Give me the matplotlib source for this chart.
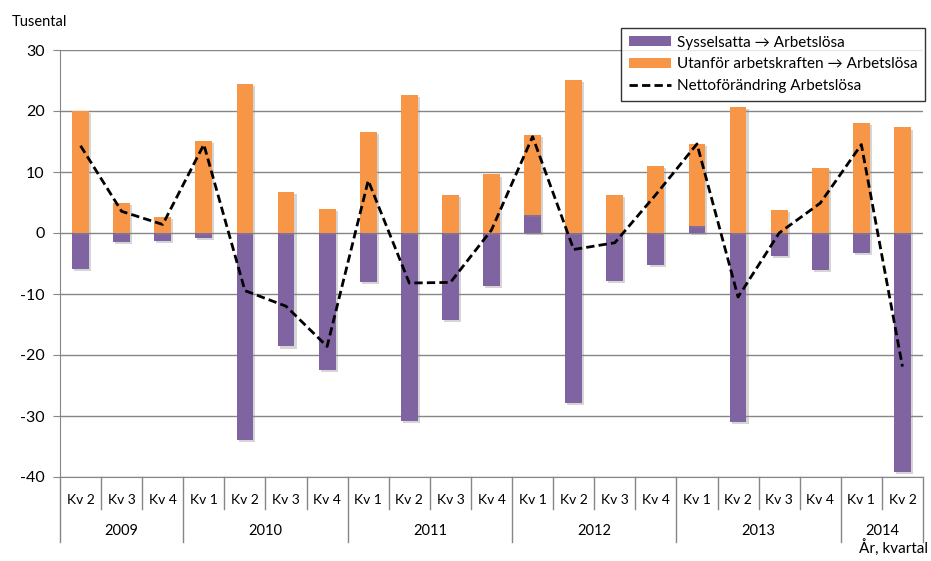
import matplotlib
matplotlib.use("Agg")
import matplotlib.pyplot as plt
import matplotlib.transforms as mtransforms
from matplotlib.patches import Patch
from matplotlib.lines import Line2D
import matplotlib.patheffects as pe
import numpy as np

plt.rcParams['font.family'] = ['Lato', 'DejaVu Sans']
plt.rcParams['axes.unicode_minus'] = False

quarters = ["Kv 2", "Kv 3", "Kv 4",
            "Kv 1", "Kv 2", "Kv 3", "Kv 4",
            "Kv 1", "Kv 2", "Kv 3", "Kv 4",
            "Kv 1", "Kv 2", "Kv 3", "Kv 4",
            "Kv 1", "Kv 2", "Kv 3", "Kv 4",
            "Kv 1", "Kv 2"]
years = ["2009", "2010", "2011", "2012", "2013", "2014"]
year_counts = [3, 4, 4, 4, 4, 2]

sysselsatta = [-5.85, -1.5, -1.3,
               -0.8, -33.9, -18.6, -22.5,
               -8.0, -30.8, -14.3, -8.7,
               2.95, -27.8, -7.9, -5.3,
               1.2, -31.0, -3.7, -6.0,
               -3.2, -39.1]
utanfor = [20.0, 5.0, 2.6,
           15.1, 24.5, 6.7, 4.0,
           16.6, 22.6, 6.2, 9.6,
           13.1, 25.1, 6.2, 11.0,
           13.4, 20.7, 3.8, 10.7,
           18.0, 17.3]
netto = [14.3, 3.55, 1.4,
         14.5, -9.45, -12.0, -18.6,
         8.6, -8.2, -8.1, 0.5,
         15.8, -2.7, -1.6, 6.3,
         14.6, -10.5, 0.0, 4.9,
         14.5, -21.9]

purple = "#8064A2"
orange = "#F79646"
grid_c = "#868686"
dash = (0, (3.0, 1.5))

fig = plt.figure(figsize=(9.31, 5.61), dpi=100)
ax = fig.add_axes([60/931, 1-477/561, (923-60)/931, (477-50)/561])

x = np.arange(len(quarters))
w = 0.41
shadow = [pe.SimplePatchShadow(offset=(1.5, -1.5), shadow_rgbFace="#888888", alpha=0.35), pe.Normal()]
b1 = ax.bar(x, sysselsatta, w, color=purple, zorder=3)
bottoms = [max(v, 0) for v in sysselsatta]
b2 = ax.bar(x, utanfor, w, bottom=bottoms, color=orange, zorder=3)
for p in list(b1) + list(b2):
    p.set_path_effects(shadow)
ax.plot(x, netto, color="black", lw=2.0, ls=dash, zorder=4)

ax.set_xlim(-0.5, len(quarters) - 0.5)
ax.set_ylim(-40, 30)
ax.set_yticks(range(-40, 31, 10))
ax.yaxis.grid(True, color=grid_c, lw=1.0, zorder=0)
ax.set_axisbelow(True)
for s in ["top", "right"]:
    ax.spines[s].set_visible(False)
ax.spines["left"].set_color(grid_c)
ax.spines["bottom"].set_color(grid_c)
ax.tick_params(axis="y", length=5, color=grid_c, labelsize=11.5, pad=6)
ax.set_xticks([])
ax.tick_params(axis="x", length=0)

trans = mtransforms.blended_transform_factory(ax.transData, ax.transAxes)
h_ax = 477 - 50
q_depth = -32 / h_ax
y_depth = -65 / h_ax
q_lab = -23 / h_ax
y_lab = -54 / h_ax

year_bounds = [-0.5]
for c in year_counts:
    year_bounds.append(year_bounds[-1] + c)
for b in np.arange(-0.5, len(quarters), 1.0):
    depth = y_depth if any(abs(b - yb) < 1e-6 for yb in year_bounds) else q_depth
    ax.add_line(Line2D([b, b], [0, depth], transform=trans, color=grid_c, lw=1.0, clip_on=False))
for i, q in enumerate(quarters):
    ax.text(i, q_lab, q, transform=trans, ha="center", va="center", fontsize=10)
for j, yr in enumerate(years):
    c = (year_bounds[j] + year_bounds[j + 1]) / 2
    ax.text(c, y_lab, yr, transform=trans, ha="center", va="center", fontsize=10.5)

fig.text(12/931, 1-22/561, "Tusental", ha="left", va="center", fontsize=10.5)
fig.text(928/931, 1-548/561, "År, kvartal", ha="right", va="center", fontsize=11)

handles = [Patch(facecolor=purple, edgecolor="none"),
           Patch(facecolor=orange, edgecolor="none"),
           Line2D([0], [0], color="black", lw=2.0, ls=dash)]
labels = ["Sysselsatta \u2192 Arbetslösa",
          "Utanför arbetskraften \u2192 Arbetslösa",
          "Nettoförändring Arbetslösa"]
leg = fig.legend(handles, labels, loc="upper right",
                 bbox_to_anchor=(925/931, 1-28/561), fontsize=11,
                 frameon=True, fancybox=False, edgecolor="black",
                 handlelength=2.8, handleheight=0.6, handletextpad=0.35,
                 labelspacing=0.5, borderpad=0.5, borderaxespad=0)
leg.get_frame().set_linewidth(1.0)

fig.savefig("out.png", dpi=100)
